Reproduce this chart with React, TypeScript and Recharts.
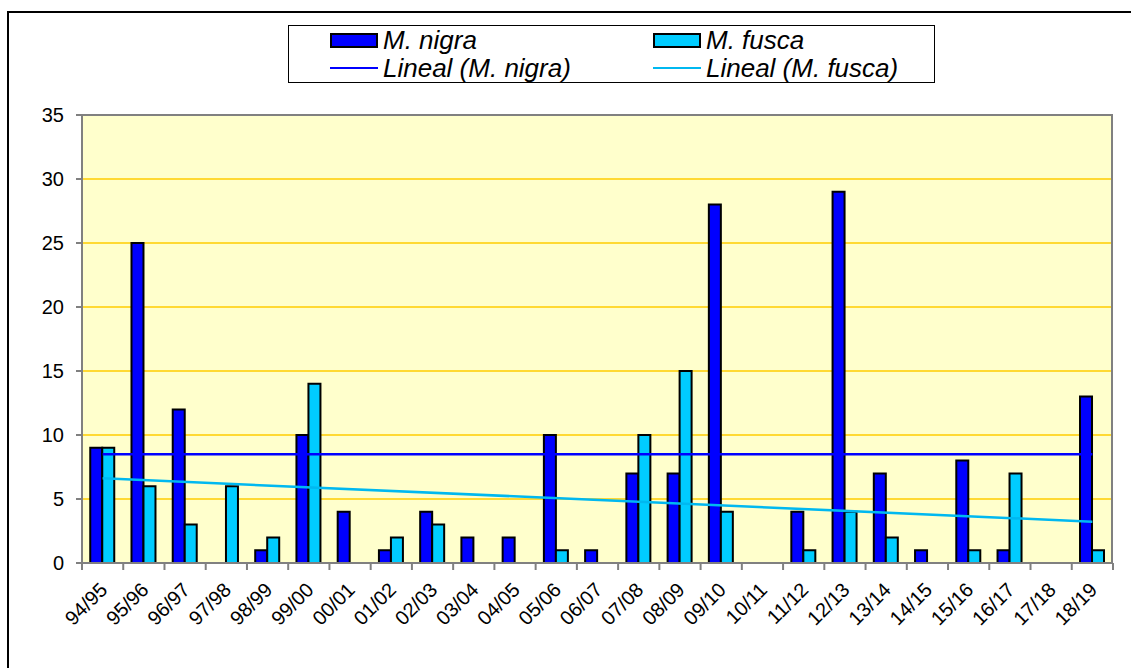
import React from 'react';
import { ComposedChart, Bar, Line, XAxis, YAxis, CartesianGrid } from 'recharts';

const seasons = [
    '94/95', '95/96', '96/97', '97/98', '98/99', '99/00', '00/01', '01/02', '02/03',
    '03/04', '04/05', '05/06', '06/07', '07/08', '08/09', '09/10', '10/11', '11/12',
    '12/13', '13/14', '14/15', '15/16', '16/17', '17/18', '18/19',
];
const nigra = [9, 25, 12, 0, 1, 10, 4, 1, 4, 2, 2, 10, 1, 7, 7, 28, 0, 4, 29, 7, 1, 8, 1, 0, 13];
const fusca = [9, 6, 3, 6, 2, 14, 0, 2, 3, 0, 0, 1, 0, 10, 15, 4, 0, 1, 4, 2, 0, 1, 7, 0, 1];
// trend lines, read at first and last season only
const trendNigra = [8.5, 8.5];
const trendFusca = [6.62, 3.23];
const yTicks = [0, 5, 10, 15, 20, 25, 30, 35];

const data = seasons.map((s, i) => ({
    season: s,
    nigra: nigra[i],
    fusca: fusca[i],
    tNigra: i === 0 ? trendNigra[0] : i === seasons.length - 1 ? trendNigra[1] : null,
    tFusca: i === 0 ? trendFusca[0] : i === seasons.length - 1 ? trendFusca[1] : null,
}));

const W = 1131;
const H = 668;
const PLOT = { left: 82, top: 115, right: 1113, bottom: 563 };
const BAND = (PLOT.right - PLOT.left) / seasons.length;
const FONT = '"Liberation Sans", Arial, sans-serif';

const XTick = (props: any) => {
    const { x, y, payload, index } = props;
    const last = index === seasons.length - 1;
    return (
        <g>
            <line x1={x - BAND / 2} x2={x - BAND / 2} y1={PLOT.bottom} y2={PLOT.bottom + 7} stroke="#808080" strokeWidth={2} />
            {last && <line x1={x + BAND / 2} x2={x + BAND / 2} y1={PLOT.bottom} y2={PLOT.bottom + 7} stroke="#808080" strokeWidth={2} />}
            <text
                x={x + 6}
                y={y + 20}
                textAnchor="end"
                fontSize={20}
                fontFamily={FONT}
                fill="#000"
                transform={`rotate(-45 ${x + 6} ${y + 20})`}
            >
                {payload.value}
            </text>
        </g>
    );
};

const Legend = () => {
    const row = (swatch: React.ReactNode, label: string) => (
        <div style={{ display: 'flex', alignItems: 'center', height: 28 }}>
            <div style={{ width: 48, display: 'flex', alignItems: 'center', marginRight: 5 }}>{swatch}</div>
            <span style={{ fontStyle: 'italic', fontSize: 26, fontFamily: FONT, color: '#000', lineHeight: '28px' }}>{label}</span>
        </div>
    );
    const box = (c: string) => <div style={{ width: 44, height: 11, background: c, border: '2px solid #000' }} />;
    const line = (c: string) => <div style={{ width: 48, height: 2, background: c }} />;
    return (
        <div style={{
            position: 'absolute', left: 288, top: 25, width: 645, height: 56,
            border: '1.5px solid #000', background: '#fff', boxSizing: 'content-box',
        }}>
            <div style={{ position: 'absolute', left: 41, top: 0 }}>
                {row(box('#0000FF'), 'M. nigra')}
                {row(line('#0000FF'), 'Lineal (M. nigra)')}
            </div>
            <div style={{ position: 'absolute', left: 364, top: 0 }}>
                {row(box('#00CCFF'), 'M. fusca')}
                {row(line('#00B8F0'), 'Lineal (M. fusca)')}
            </div>
        </div>
    );
};

export default function App() {
    return (
        <div style={{ position: 'absolute', left: 0, top: 0, width: W, height: H, background: '#fff', overflow: 'hidden' }}>
            <div style={{ position: 'absolute', left: 7, top: 11, right: -10, bottom: -10, borderLeft: '2px solid #000', borderTop: '2px solid #000' }} />
            <ComposedChart
                width={W}
                height={H}
                data={data}
                margin={{ top: PLOT.top, right: W - PLOT.right, bottom: 25, left: PLOT.left - 60 }}
                barCategoryGap="20%"
                barGap={0}
            >
                <CartesianGrid vertical={false} stroke="#FFCC00" strokeWidth={1.5} fill="#FFFFCC" />
                <XAxis
                    dataKey="season"
                    interval={0}
                    height={80}
                    tickLine={false}
                    axisLine={{ stroke: '#808080', strokeWidth: 2 }}
                    tick={<XTick />}
                />
                <YAxis
                    width={60}
                    domain={[0, 35]}
                    ticks={yTicks}
                    interval={0}
                    tickSize={6}
                    tickMargin={12}
                    tickLine={{ stroke: '#808080', strokeWidth: 2 }}
                    axisLine={{ stroke: '#808080', strokeWidth: 2 }}
                    tick={{ fontSize: 20, fontFamily: FONT, fill: '#000' }}
                />
                <Bar dataKey="nigra" fill="#0000FF" stroke="#000" strokeWidth={2} isAnimationActive={false} />
                <Bar dataKey="fusca" fill="#00CCFF" stroke="#000" strokeWidth={2} isAnimationActive={false} />
                <Line dataKey="tNigra" stroke="#0000FF" strokeWidth={2.5} dot={false} connectNulls isAnimationActive={false} />
                <Line dataKey="tFusca" stroke="#00B8F0" strokeWidth={2.5} dot={false} connectNulls isAnimationActive={false} />
            </ComposedChart>
            <div style={{
                position: 'absolute', left: PLOT.left, top: PLOT.top, width: PLOT.right - PLOT.left, height: PLOT.bottom - PLOT.top,
                borderTop: '2px solid #808080', borderRight: '2px solid #808080', boxSizing: 'border-box', pointerEvents: 'none',
                marginTop: -1,
            }} />
            <Legend />
        </div>
    );
}
